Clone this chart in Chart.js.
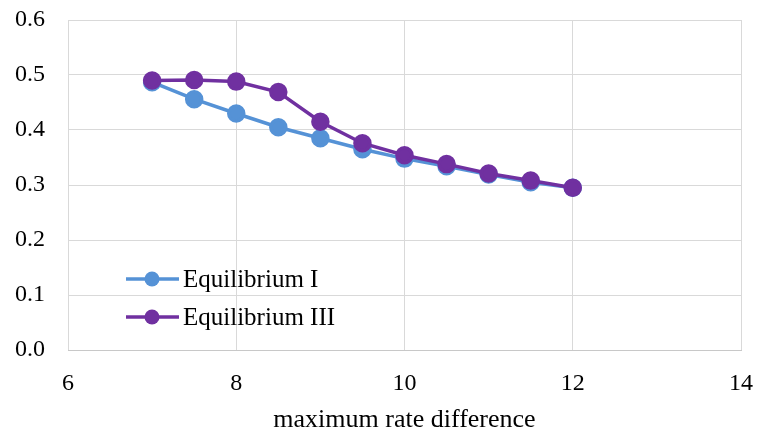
<!DOCTYPE html>
<html>
<head>
<meta charset="utf-8">
<script src="https://cdn.jsdelivr.net/npm/chart.js@4"></script>
<style>
	body { margin: 0; background: #fff; }
	#wrap { width: 758px; height: 438px; }
</style>
</head>
<body>
<div id="wrap"><canvas id="myChart"></canvas></div>
<script>
const rateDiff = [7, 7.5, 8, 8.5, 9, 9.5, 10, 10.5, 11, 11.5, 12];
const equilibriumI = [0.487, 0.456, 0.430, 0.405, 0.385, 0.365, 0.348, 0.334, 0.319, 0.305, 0.295];
const equilibriumIII = [0.490, 0.491, 0.488, 0.469, 0.415, 0.376, 0.354, 0.338, 0.321, 0.308, 0.295];
const seriesNames = ['Equilibrium I', 'Equilibrium III'];
const xTicks = [6, 8, 10, 12, 14];
const yTicks = [0, 0.1, 0.2, 0.3, 0.4, 0.5, 0.6];

const blue = '#5592d6';
const purple = '#7030a0';
const fontFamily = '"Liberation Serif", "Times New Roman", serif';

const toPoints = ys => rateDiff.map((x, i) => ({ x: x, y: ys[i] }));

// legend drawn inside the plot, bottom-left, line with a marker like the series
const insideLegend = {
	id: 'insideLegend',
	afterDraw: chart => {
		const ctx = chart.ctx;
		const area = chart.chartArea;
		const x0 = area.left + 58;
		const rows = [area.bottom - 71, area.bottom - 33];
		ctx.save();
		chart.data.datasets.forEach((ds, i) => {
			const y = rows[i];
			ctx.strokeStyle = ds.borderColor;
			ctx.lineWidth = 3.5;
			ctx.beginPath();
			ctx.moveTo(x0, y);
			ctx.lineTo(x0 + 53, y);
			ctx.stroke();
			ctx.fillStyle = ds.borderColor;
			ctx.beginPath();
			ctx.arc(x0 + 26, y, 7.5, 0, Math.PI * 2);
			ctx.fill();
			ctx.fillStyle = '#000';
			ctx.font = '25px ' + fontFamily;
			ctx.textBaseline = 'middle';
			ctx.fillText(ds.label, x0 + 57, y + 1);
		});
		ctx.restore();
	},
};

const ctx = document.getElementById('myChart');
new Chart(ctx, {
	type: 'scatter',
	data: {
		datasets: [
			{
				label: seriesNames[0],
				data: toPoints(equilibriumI),
				showLine: true,
				borderColor: blue,
				backgroundColor: blue,
				borderWidth: 3.5,
				pointRadius: 7.5,
				pointHoverRadius: 7.5,
				order: 1,
			},
			{
				label: seriesNames[1],
				data: toPoints(equilibriumIII),
				showLine: true,
				borderColor: purple,
				backgroundColor: purple,
				borderWidth: 3.5,
				pointRadius: 7.5,
				pointHoverRadius: 7.5,
				order: 0,
			},
		],
	},
	options: {
		responsive: true,
		maintainAspectRatio: false,
		animation: false,
		layout: { padding: { top: 20, right: 17, left: 0, bottom: 0 } },
		plugins: {
			legend: { display: false },
			tooltip: { enabled: false },
		},
		elements: { line: { tension: 0 } },
		scales: {
			x: {
				type: 'linear',
				min: 6,
				max: 14,
				afterBuildTicks: axis => { axis.ticks = xTicks.map(v => ({ value: v })); },
				afterFit: axis => {
					axis.height = 88;
					axis.paddingLeft = 0;
					axis.paddingRight = 0;
				},
				grid: { color: '#d9d9d9', lineWidth: 1, drawTicks: false },
				border: { color: '#c8c8c8', width: 1 },
				ticks: {
					padding: 19,
					color: '#000',
					font: { family: fontFamily, size: 24 },
				},
				title: {
					display: true,
					text: 'maximum rate difference',
					color: '#000',
					font: { family: fontFamily, size: 26 },
					padding: { top: 4, bottom: 2 },
				},
			},
			y: {
				min: 0,
				max: 0.6,
				afterBuildTicks: axis => { axis.ticks = yTicks.map(v => ({ value: v })); },
				afterFit: axis => {
					axis.width = 68;
					axis.paddingTop = 0;
					axis.paddingBottom = 0;
				},
				grid: { color: '#d9d9d9', lineWidth: 1, drawTicks: false },
				border: { display: false },
				ticks: {
					padding: 23,
					color: '#000',
					font: { family: fontFamily, size: 24 },
					callback: v => v.toFixed(1),
				},
			},
		},
	},
	plugins: [insideLegend],
});
</script>
</body>
</html>
